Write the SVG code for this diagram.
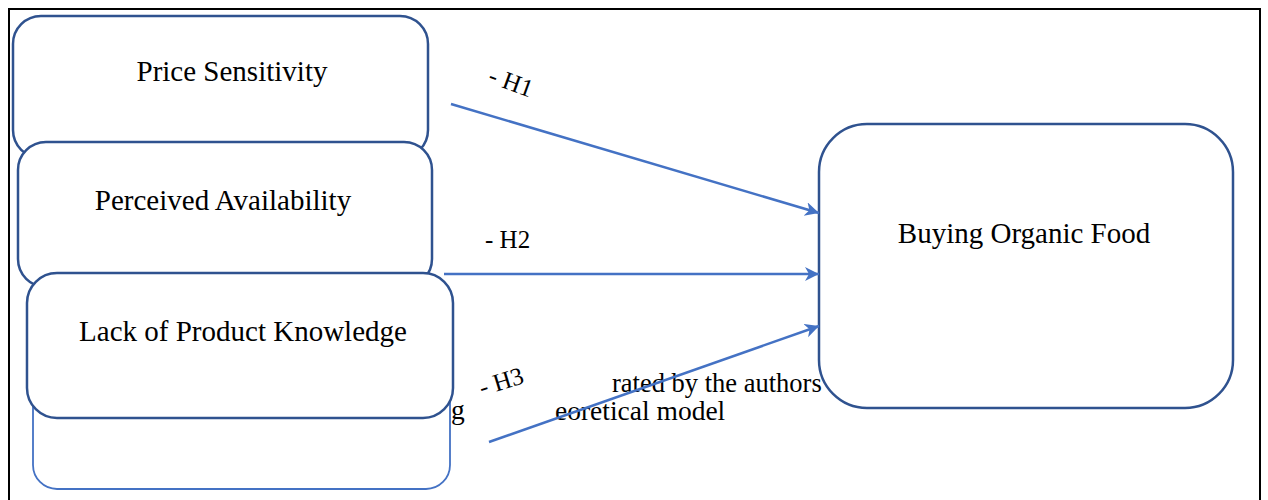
<svg xmlns="http://www.w3.org/2000/svg" width="1268" height="500" viewBox="0 0 1268 500">
  <style>
    .frame { fill: none; stroke: #000; stroke-width: 2; }
    .node { fill: #fff; stroke: #2F528F; stroke-width: 2.5; }
    .node-light { fill: #fff; stroke: #4472C4; stroke-width: 1.8; }
    .label { font-family: "Liberation Serif", "Times New Roman", serif; font-size: 29px; fill: #000; text-anchor: middle; }
    .hyp { font-family: "Liberation Serif", "Times New Roman", serif; font-size: 25px; fill: #000; }
    .note { font-family: "Liberation Serif", "Times New Roman", serif; font-size: 26.5px; fill: #000; }
    .link { fill: none; stroke: #4472C4; stroke-width: 2.5; marker-end: url(#arrow); }
  </style>
  <defs>
    <marker id="arrow" markerUnits="userSpaceOnUse" markerWidth="15" markerHeight="15" refX="14" refY="7" orient="auto">
      <path d="M0,0 L14,7 L0,14 L4,7 z" fill="#4472C4"/>
    </marker>
  </defs>

  <rect width="1268" height="500" fill="#fff"/>
  <!-- outer frame -->
  <rect class="frame" x="9" y="9" width="1251" height="520"/>

  <!-- caption fragments -->
  <g id="caption">
    <text class="note" x="612" y="392">rated by the authors</text>
    <text class="note" x="451" y="419" style="font-size:27.5px">g</text>
    <text class="note" x="555" y="420" style="font-size:27.5px">eoretical model</text>
  </g>

  <g id="node-price">
    <rect class="node" x="13" y="16" width="415" height="142" rx="28"/>
    <text class="label" x="232" y="81">Price Sensitivity</text>
  </g>

  <g id="node-availability">
    <rect class="node" x="18" y="142" width="414" height="145" rx="28"/>
    <text class="label" x="223" y="210">Perceived Availability</text>
  </g>

  <g id="node-blank">
    <rect class="node-light" x="33" y="345" width="417" height="144" rx="24"/>
  </g>

  <g id="node-knowledge">
    <rect class="node" x="27" y="273" width="426" height="145" rx="30"/>
    <text class="label" x="243" y="341">Lack of Product Knowledge</text>
  </g>

  <g id="node-buying">
    <rect class="node" x="819" y="124" width="414" height="284" rx="48"/>
    <text class="label" x="1024" y="243">Buying Organic Food</text>
  </g>

  <g id="connectors">
    <line class="link" x1="451" y1="104" x2="819" y2="213"/>
    <line class="link" x1="444" y1="274" x2="819" y2="274"/>
    <line class="link" x1="489" y1="442" x2="819" y2="326"/>
    <text class="hyp" transform="translate(487,82) rotate(20)">- H1</text>
    <text class="hyp" x="485" y="248">- H2</text>
    <text class="hyp" transform="translate(482,396) rotate(-17)">- H3</text>
  </g>
</svg>
